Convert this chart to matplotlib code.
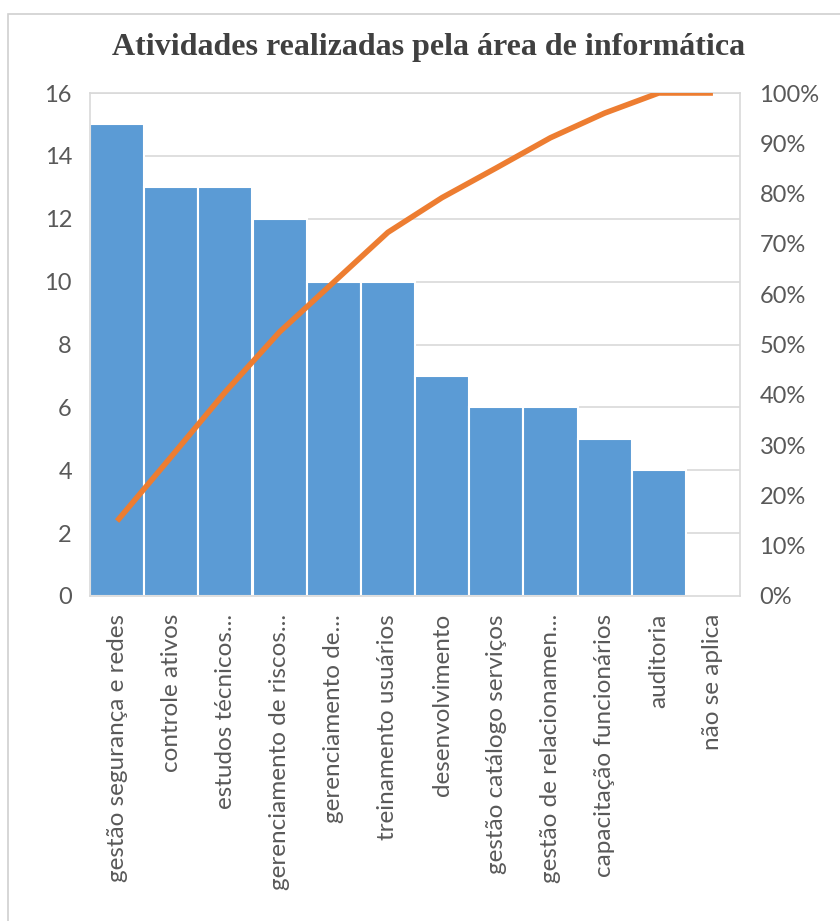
import numpy as np
import matplotlib.pyplot as plt
import matplotlib.patches as patches
from matplotlib.ticker import FuncFormatter

categories = ["gestão segurança e redes", "controle ativos", "estudos técnicos...",
              "gerenciamento de riscos...", "gerenciamento de...", "treinamento usuários",
              "desenvolvimento", "gestão catálogo serviços", "gestão de relacionamen...",
              "capacitação funcionários", "auditoria", "não se aplica"]
counts = [15, 13, 13, 12, 10, 10, 7, 6, 6, 5, 4, 0]
cum_pct = [14.9, 27.7, 40.6, 52.5, 62.4, 72.3, 79.2, 85.1, 91.1, 96.0, 100.0, 100.0]

left_ticks = [0, 2, 4, 6, 8, 10, 12, 14, 16]
right_ticks = [0, 10, 20, 30, 40, 50, 60, 70, 80, 90, 100]

blue = "#5B9BD5"
orange = "#ED7D31"
grid_c = "#D9D9D9"
text_c = "#595959"

W, H = 840, 921
fig = plt.figure(figsize=(W / 100, H / 100), dpi=100)
fig.patch.set_facecolor("white")

# outer chart frame (cut at right/bottom)
fig.patches.append(patches.Rectangle((8 / W, -0.01), 1.0, 1 - 14 / H - (-0.01),
                                     transform=fig.transFigure, fill=False,
                                     edgecolor="#D0D0D0", linewidth=1.2))

x0, x1, yt, yb = 90, 740, 93, 596
ax = fig.add_axes([x0 / W, 1 - yb / H, (x1 - x0) / W, (yb - yt) / H])
x = np.arange(len(categories))
ax.bar(x, counts, width=1.0, color=blue, edgecolor="white", linewidth=1.5, zorder=2)
ax.set_xlim(-0.5, len(categories) - 0.5)
ax.set_ylim(0, 16)
ax.set_yticks(left_ticks)
ax.yaxis.grid(True, color=grid_c, linewidth=1.2, zorder=0)
ax.set_axisbelow(True)
for s in ax.spines.values():
    s.set_color(grid_c)
    s.set_linewidth(1.2)
ax.tick_params(length=0, colors=text_c, labelsize=17)
ax.tick_params(axis="y", pad=13)
ax.tick_params(axis="x", pad=13)
ax.set_xticks(x)
ax.set_xticklabels(categories, rotation=90, va="top", ha="center", fontsize=17.5,
                   color=text_c, family="Lato")
for lab in ax.get_yticklabels():
    lab.set_family("Lato")

ax2 = ax.twinx()
ax2.plot(x, cum_pct, color=orange, linewidth=4, solid_capstyle="butt", zorder=3)
ax2.set_ylim(0, 100)
ax2.set_yticks(right_ticks)
ax2.yaxis.set_major_formatter(FuncFormatter(lambda v, p: f"{v:.0f}%"))
ax2.tick_params(length=0, colors=text_c, labelsize=17, pad=14)
for lab in ax2.get_yticklabels():
    lab.set_family("Lato")
for s in ax2.spines.values():
    s.set_visible(False)

fig.text((113 + 745) / 2 / W, 1 - 47 / H, "Atividades realizadas pela área de informática",
         ha="center", va="center", fontsize=23, fontweight="bold",
         family="Liberation Serif", color="#404040")

fig.savefig("out.png", dpi=100)
